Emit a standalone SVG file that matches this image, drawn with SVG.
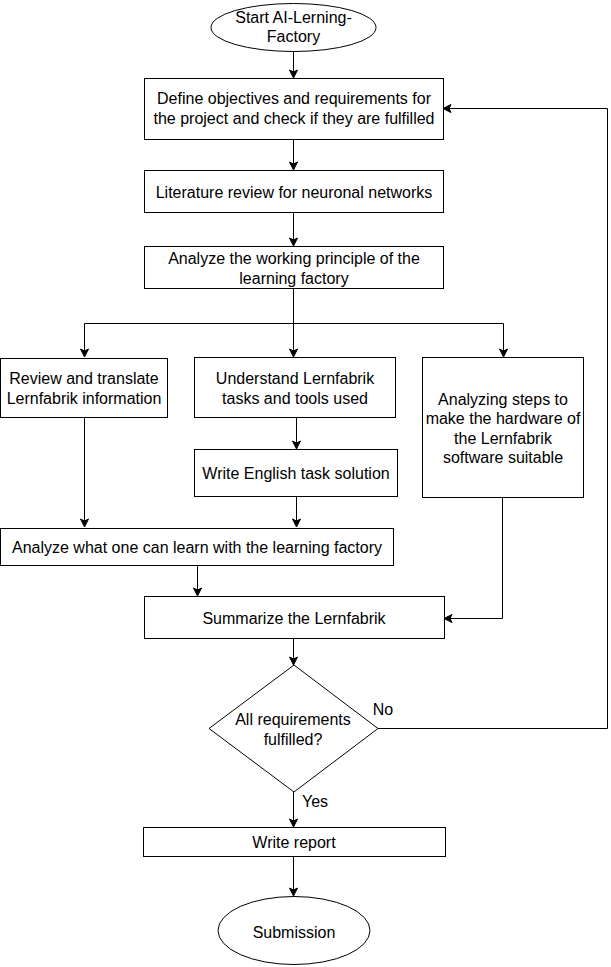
<svg xmlns="http://www.w3.org/2000/svg" width="611" height="967" viewBox="0 0 611 967">
<style>
.s{fill:#fff;stroke:#000;stroke-width:1}
.t{font-family:"Liberation Sans",Arial,sans-serif;font-size:16px;fill:#000;text-anchor:middle;dominant-baseline:central}
.c{fill:none;stroke:#000;stroke-width:1}
</style>
<defs>
<marker id="a" markerWidth="10" markerHeight="10" refX="9" refY="5" orient="auto" markerUnits="userSpaceOnUse">
<path d="M1,1 L9,5 L1,9 L3,5 Z" fill="#000" stroke="#000" stroke-width="1"/>
</marker>
</defs>
<rect width="611" height="967" fill="#fff"/>
<g id="connectors">
<path class="c" d="M293.5,51.5 V78" marker-end="url(#a)"/>
<path class="c" d="M293.5,140 V170" marker-end="url(#a)"/>
<path class="c" d="M293.5,213 V246" marker-end="url(#a)"/>
<path class="c" d="M293.5,289 V357" marker-end="url(#a)"/>
<path class="c" d="M84.5,357 V323.5 H503.5 V357" marker-end="url(#a)"/>
<path class="c" d="M84.5,330 V357" marker-end="url(#a)"/>
<path class="c" d="M296.5,418 V449" marker-end="url(#a)"/>
<path class="c" d="M84.5,418 V527" marker-end="url(#a)"/>
<path class="c" d="M296.5,497 V527" marker-end="url(#a)"/>
<path class="c" d="M197.5,566 V596" marker-end="url(#a)"/>
<path class="c" d="M502.5,498 V618.5 H444" marker-end="url(#a)"/>
<path class="c" d="M293.5,639 V665" marker-end="url(#a)"/>
<path class="c" d="M378,728.5 H607.5 V108.5 H443" marker-end="url(#a)"/>
<path class="c" d="M293.5,792 V827" marker-end="url(#a)"/>
<path class="c" d="M293.5,857 V896" marker-end="url(#a)"/>
<text class="t" x="383" y="709">No</text>
<text class="t" x="315" y="801">Yes</text>
</g>
<g id="start">
<ellipse class="s" cx="293.5" cy="27.5" rx="82.5" ry="24"/>
<text class="t" x="293.5" y="17">Start AI-Lerning-</text>
<text class="t" x="293.5" y="36">Factory</text>
</g>
<g id="define">
<rect class="s" x="144.5" y="78.5" width="299" height="61"/>
<text class="t" x="294" y="98">Define objectives and requirements for</text>
<text class="t" x="294" y="118">the project and check if they are fulfilled</text>
</g>
<g id="literature">
<rect class="s" x="144.5" y="170.5" width="299" height="42"/>
<text class="t" x="294" y="192">Literature review for neuronal networks</text>
</g>
<g id="analyze-principle">
<rect class="s" x="144.5" y="246.5" width="299" height="42"/>
<text class="t" x="294" y="258">Analyze the working principle of the</text>
<text class="t" x="294" y="278">learning factory</text>
</g>
<g id="review">
<rect class="s" x="0.5" y="358.5" width="167" height="59"/>
<text class="t" x="84" y="378">Review and translate</text>
<text class="t" x="84" y="398">Lernfabrik information</text>
</g>
<g id="understand">
<rect class="s" x="194.5" y="357.5" width="201" height="60"/>
<text class="t" x="295" y="378">Understand Lernfabrik</text>
<text class="t" x="295" y="398">tasks and tools used</text>
</g>
<g id="english">
<rect class="s" x="194.5" y="449.5" width="203" height="47"/>
<text class="t" x="296" y="473">Write English task solution</text>
</g>
<g id="analyzing-steps">
<rect class="s" x="422.5" y="357.5" width="161" height="140"/>
<text class="t" x="503" y="399">Analyzing steps to</text>
<text class="t" x="503" y="418">make the hardware of</text>
<text class="t" x="503" y="438">the Lernfabrik</text>
<text class="t" x="503" y="457">software suitable</text>
</g>
<g id="analyze-learn">
<rect class="s" x="0.5" y="528.5" width="393" height="37"/>
<text class="t" x="197" y="547">Analyze what one can learn with the learning factory</text>
</g>
<g id="summarize">
<rect class="s" x="144.5" y="596.5" width="300" height="42"/>
<text class="t" x="294" y="618">Summarize the Lernfabrik</text>
</g>
<g id="decision">
<path class="s" d="M294,665 L378,728.5 L294,792 L209,728.5 Z"/>
<text class="t" x="293" y="719">All requirements</text>
<text class="t" x="293" y="739">fulfilled?</text>
</g>
<g id="report">
<rect class="s" x="143.5" y="827.5" width="302" height="29"/>
<text class="t" x="294" y="842">Write report</text>
</g>
<g id="submission">
<ellipse class="s" cx="294" cy="930.5" rx="76" ry="34"/>
<text class="t" x="294" y="932">Submission</text>
</g>
</svg>
